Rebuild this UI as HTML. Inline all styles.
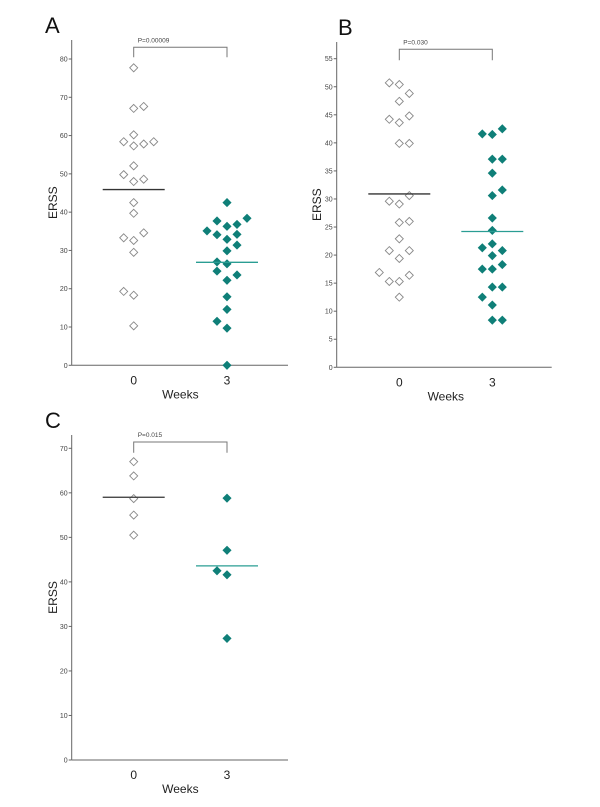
<!DOCTYPE html>
<html><head><meta charset="utf-8"><style>
html,body{margin:0;padding:0;background:#fff;}
svg{display:block;font-family:"Liberation Sans",sans-serif;}
</style></head><body>
<svg id="chart" width="600" height="807" viewBox="0 0 600 807"></svg>
<script>
// Panel A data: [offset, value]
const aWeek0 = [[0,77.7],[0,67.1],[1,67.6],[0,60.2],[-1,58.4],[0,57.3],[1,57.8],[2,58.4],[0,52.1],[-1,49.8],[0,48.0],[1,48.6],[0,42.5],[0,39.7],[-1,33.3],[0,32.6],[1,34.6],[0,29.5],[-1,19.3],[0,18.3],[0,10.3]];
const aWeek3 = [[0,42.5],[-1,37.7],[0,36.3],[1,36.8],[2,38.4],[-2,35.1],[-1,34.1],[0,32.9],[1,34.2],[1,31.4],[0,29.9],[-1,27.0],[0,26.5],[-1,24.6],[1,23.6],[0,22.2],[0,17.9],[0,14.6],[-1,11.5],[0,9.7],[0,0]];
const aMeans = [45.9, 26.9];
const aTicks = [0,10,20,30,40,50,60,70,80];
// Panel B data
const bWeek0 = [[-1,50.7],[0,50.4],[1,48.8],[0,47.4],[-1,44.2],[0,43.6],[1,44.8],[0,39.9],[1,39.9],[1,30.6],[-1,29.6],[0,29.1],[0,25.8],[1,26.0],[0,22.9],[-1,20.8],[1,20.8],[0,19.4],[-2,16.9],[1,16.4],[-1,15.3],[0,15.3],[0,12.5]];
const bWeek3 = [[-1,41.6],[0,41.5],[1,42.5],[0,37.1],[1,37.1],[0,34.6],[1,31.6],[0,30.6],[0,26.6],[0,24.4],[0,22.0],[-1,21.3],[1,20.8],[0,19.9],[1,18.3],[-1,17.5],[0,17.5],[0,14.3],[1,14.3],[-1,12.5],[0,11.1],[0,8.4],[1,8.4]];
const bMeans = [30.9, 24.2];
const bTicks = [0,5,10,15,20,25,30,35,40,45,50,55];
// Panel C data
const cWeek0 = [[0,67.0],[0,63.8],[0,58.7],[0,55.0],[0,50.5]];
const cWeek3 = [[0,58.8],[0,47.1],[-1,42.5],[0,41.6],[0,27.3]];
const cMeans = [59.0, 43.6];
const cTicks = [0,10,20,30,40,50,60,70];
const categories = ["0","3"];
const pLabels = ["P=0.00009","P=0.030","P=0.015"];

const NS="http://www.w3.org/2000/svg";
const svg=document.getElementById('chart');
function mk(tag,attrs,parent){const e=document.createElementNS(NS,tag);for(const k in attrs)e.setAttribute(k,attrs[k]);(parent||svg).appendChild(e);return e;}

function panel(cfg){
  const g=mk('g',{});
  
  
  const y=v=>cfg.y0-(v/cfg.vmax)*(cfg.y0-cfg.yTop);
  const xs=[cfg.x0c,cfg.x3c];
  const ya=mk('line',{x1:cfg.ax,y1:cfg.axTop,x2:cfg.ax,y2:cfg.y0,stroke:'#666','stroke-width':1},g);
  
  
  const xa=mk('line',{x1:cfg.ax,y1:cfg.y0,x2:cfg.axR,y2:cfg.y0,stroke:'#666','stroke-width':1},g);
  
  
  cfg.ticks.forEach(t=>{
    mk('line',{x1:cfg.ax-3,y1:y(t),x2:cfg.ax,y2:y(t),stroke:'#666'},g);
    const tl=mk('text',{x:cfg.ax-4,y:y(t)+2.5,'font-size':7,fill:'#444','text-anchor':'end'},g);
    tl.textContent=t;
    
    
  });
  categories.forEach((c,i)=>{
    const t=mk('text',{x:xs[i],y:cfg.y0+19,'font-size':12,fill:'#222','text-anchor':'middle'},g);
    t.textContent=c;
    
    
  });
  const wk=mk('text',{x:(xs[0]+xs[1])/2,y:cfg.y0+33,'font-size':12,fill:'#222','text-anchor':'middle'},g);
  wk.textContent='Weeks';
  
  
  const ey=(cfg.y0+cfg.axTop)/2;
  const et=mk('text',{x:cfg.ylx,y:ey,'font-size':12,fill:'#222','text-anchor':'middle',transform:`rotate(-90 ${cfg.ylx} ${ey})`},g);
  et.textContent='ERSS';
  
  
  const pl=mk('text',{x:cfg.lx,y:cfg.ly,'font-size':22,fill:'#111'},g);
  pl.textContent=cfg.id;
  
  
  const br=mk('path',{d:`M${xs[0]} ${cfg.bBot} V${cfg.bTop} H${xs[1]} V${cfg.bBot}`,fill:'none',stroke:'#777','stroke-width':1},g);
  
  
  const pt=mk('text',{x:xs[0]+4,y:cfg.bTop-5,'font-size':6.5,fill:'#444'},g);
  pt.textContent=cfg.p;
  
  
  const r=4;
  [cfg.d0,cfg.d3].forEach((data,gi)=>{
    data.forEach(([o,v])=>{
      const cx=xs[gi]+o*10, cy=y(v);
      const d=mk('path',{d:`M${cx} ${cy-r} L${cx+r} ${cy} L${cx} ${cy+r} L${cx-r} ${cy} Z`,
        fill:gi?'#0f7f78':'#fff',stroke:gi?'#0f7f78':'#888','stroke-width':gi?0.8:0.9},g);
      
      
    });
  });
  cfg.means.forEach((m,i)=>{
    const l=mk('line',{x1:xs[i]-31,y1:y(m),x2:xs[i]+31,y2:y(m),stroke:i?'#2a9d93':'#333','stroke-width':1.3},g);
    
    
  });
}
panel({id:'A',ax:71.7,axR:288,axTop:40,y0:365.3,yTop:59,vmax:80,x0c:133.7,x3c:227,ticks:aTicks,d0:aWeek0,d3:aWeek3,means:aMeans,bTop:47.3,bBot:57.3,p:pLabels[0],lx:45,ly:33,ylx:57});
panel({id:'B',ax:336.7,axR:551.7,axTop:42,y0:367.3,yTop:58.7,vmax:55,x0c:399.3,x3c:492.3,ticks:bTicks,d0:bWeek0,d3:bWeek3,means:bMeans,bTop:49.3,bBot:60.3,p:pLabels[1],lx:338,ly:35,ylx:321});
panel({id:'C',ax:71.7,axR:288,axTop:435,y0:760,yTop:448.3,vmax:70,x0c:133.7,x3c:227,ticks:cTicks,d0:cWeek0,d3:cWeek3,means:cMeans,bTop:442,bBot:452.7,p:pLabels[2],lx:45,ly:428,ylx:57});
</script>
</body></html>
